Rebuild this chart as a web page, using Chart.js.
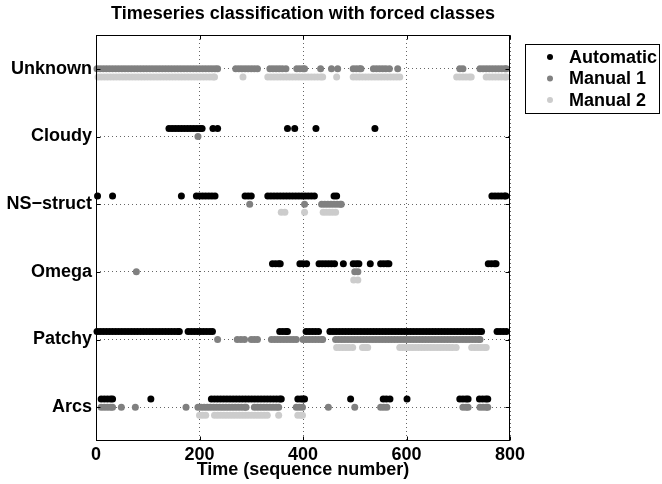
<!DOCTYPE html>
<html>
<head>
<meta charset="utf-8">
<script src="https://cdn.jsdelivr.net/npm/chart.js@4.4.0/dist/chart.umd.min.js"></script>
<style>
  html, body { margin: 0; padding: 0; background: #fff; }
  #wrap { width: 662px; height: 484px; }
</style>
</head>
<body>
<div id="wrap"><canvas id="chart" width="662" height="484"></canvas></div>
<script>
// classes, bottom to top
const categories = ['Arcs', 'Patchy', 'Omega', 'NS\u2212struct', 'Cloudy', 'Unknown'];
const seriesNames = ['Automatic', 'Manual 1', 'Manual 2'];
const seriesColors = ['#000000', '#808080', '#cccccc'];
const xTicks = [0, 200, 400, 600, 800];

// sequence numbers per class, Automatic
const autoArcs = [10, 16, 22, 28, 32, 106, 223, 229, 235, 241, 247, 253, 259, 265, 271, 277, 283, 289, 295, 301, 307, 313, 319, 325, 331, 337, 343, 349, 355, 358, 390, 396, 400, 403, 492, 555, 561, 568, 601, 703, 709, 715, 719, 741, 747, 753, 757];
const autoPatchy = [2, 8, 14, 20, 26, 32, 38, 44, 50, 56, 62, 68, 74, 80, 86, 92, 98, 104, 110, 116, 122, 128, 134, 140, 146, 152, 158, 161, 178, 184, 190, 196, 202, 208, 214, 220, 225, 355, 361, 367, 370, 406, 412, 418, 424, 430, 452, 458, 464, 470, 476, 482, 488, 494, 500, 506, 512, 518, 524, 530, 536, 542, 548, 554, 560, 566, 572, 578, 584, 590, 596, 602, 608, 614, 620, 626, 632, 638, 644, 650, 656, 662, 668, 674, 680, 686, 692, 698, 704, 710, 716, 722, 728, 734, 740, 745, 775, 781, 787, 793];
const autoOmega = [341, 347, 353, 356, 394, 400, 407, 431, 437, 443, 449, 455, 461, 478, 497, 503, 508, 530, 550, 556, 562, 566, 758, 764, 770, 773];
const autoNS = [3, 32, 165, 194, 200, 206, 212, 218, 224, 230, 288, 294, 300, 332, 338, 344, 350, 356, 362, 368, 374, 380, 386, 392, 398, 404, 410, 416, 422, 460, 465, 765, 771, 777, 783, 789, 792];
const autoCloudy = [141, 147, 153, 159, 165, 171, 177, 183, 189, 195, 201, 205, 226, 235, 370, 384, 425, 539];
const autoUnknown = [];

// Manual 1
const man1Arcs = [10, 16, 22, 28, 32, 49, 76, 174, 197, 203, 209, 215, 221, 227, 233, 239, 245, 251, 257, 263, 269, 275, 281, 287, 290, 306, 312, 318, 324, 330, 336, 342, 348, 353, 387, 393, 399, 449, 500, 550, 556, 562, 709, 715, 719, 742, 748, 754, 757];
const man1Patchy = [235, 273, 280, 287, 300, 306, 312, 339, 345, 351, 357, 363, 369, 375, 381, 387, 400, 406, 412, 418, 424, 430, 436, 438, 463, 469, 475, 481, 487, 493, 499, 505, 511, 517, 523, 529, 535, 541, 547, 553, 559, 565, 571, 577, 583, 589, 595, 601, 607, 613, 619, 625, 631, 637, 643, 649, 655, 661, 667, 673, 679, 685, 691, 697, 703, 709, 715, 721, 727, 733, 739, 742];
const man1Omega = [78, 500, 506];
const man1NS = [297, 403, 436, 442, 448, 454, 460, 466, 472, 474];
const man1Cloudy = [197];
const man1Unknown = [2, 8, 14, 20, 26, 32, 38, 44, 50, 56, 62, 68, 74, 80, 86, 92, 98, 104, 110, 116, 122, 128, 134, 140, 146, 152, 158, 164, 170, 176, 182, 188, 194, 200, 206, 212, 218, 224, 230, 235, 270, 276, 282, 288, 294, 300, 306, 312, 336, 342, 348, 354, 360, 367, 388, 394, 400, 403, 434, 455, 467, 497, 503, 509, 512, 536, 542, 548, 554, 560, 567, 583, 703, 709, 742, 748, 754, 760, 766, 772, 778, 784, 790, 793];

// Manual 2
const man2Arcs = [200, 206, 212, 229, 235, 241, 247, 253, 259, 265, 271, 277, 283, 289, 295, 301, 307, 313, 319, 325, 331, 353, 390, 396, 399];
const man2Patchy = [465, 471, 477, 483, 489, 496, 515, 520, 525, 587, 593, 599, 605, 611, 617, 623, 629, 635, 641, 647, 653, 659, 665, 671, 677, 683, 689, 696, 726, 732, 738, 744, 750, 754];
const man2Omega = [498, 506];
const man2NS = [358, 365, 403, 439, 445, 451, 457, 463];
const man2Cloudy = [];
const man2Unknown = [4, 10, 16, 22, 28, 34, 40, 46, 52, 58, 64, 70, 76, 82, 88, 94, 100, 106, 112, 118, 124, 130, 136, 142, 148, 154, 160, 166, 172, 178, 184, 190, 196, 202, 208, 214, 220, 226, 229, 284, 332, 338, 344, 350, 356, 362, 368, 374, 380, 386, 392, 398, 404, 410, 416, 422, 428, 434, 438, 465, 497, 503, 509, 515, 521, 527, 533, 539, 545, 551, 557, 563, 569, 575, 581, 587, 697, 703, 709, 715, 721, 725, 754, 760, 766, 772, 778, 784, 790, 793];

const autoRows = [autoArcs, autoPatchy, autoOmega, autoNS, autoCloudy, autoUnknown];
const man1Rows = [man1Arcs, man1Patchy, man1Omega, man1NS, man1Cloudy, man1Unknown];
const man2Rows = [man2Arcs, man2Patchy, man2Omega, man2NS, man2Cloudy, man2Unknown];

const FONT = '"Liberation Sans", Arial, Helvetica, sans-serif';
Chart.defaults.font.family = FONT;
Chart.defaults.color = '#000';

// each series sits a little above/below the class line
const offsets = [0.12, 0, -0.12];

function buildPoints(rows, offset) {
  const pts = [];
  rows.forEach((xs, i) => {
    xs.forEach((x) => pts.push({ x: x, y: i + 1 + offset }));
  });
  return pts;
}

const frame = {
  id: 'frame',
  afterDraw(chart) {
    const { ctx, chartArea: a, scales } = chart;
    ctx.save();
    ctx.strokeStyle = '#000';
    ctx.lineWidth = 1;
    const L = a.left + 0.5, R = a.right - 0.5, T = a.top + 0.5, B = a.bottom - 0.5;
    ctx.strokeRect(L, T, R - L, B - T);

    // inward tick marks, matlab style
    ctx.beginPath();
    xTicks.forEach((v) => {
      const px = Math.round(scales.x.getPixelForValue(v)) + 0.5;
      ctx.moveTo(px, B); ctx.lineTo(px, B - 4);
      ctx.moveTo(px, T); ctx.lineTo(px, T + 4);
    });
    categories.forEach((c, i) => {
      const py = Math.round(scales.y.getPixelForValue(i + 1)) + 0.5;
      ctx.moveTo(L, py); ctx.lineTo(L + 4, py);
      ctx.moveTo(R, py); ctx.lineTo(R - 4, py);
    });
    ctx.stroke();

    // legend box
    const bx = 525.5, by = 44.5, bw = 134, bh = 69;
    ctx.fillStyle = '#fff';
    ctx.fillRect(bx, by, bw, bh);
    ctx.strokeRect(bx, by, bw, bh);
    ctx.font = 'bold 18px ' + FONT;
    ctx.textBaseline = 'middle';
    ctx.textAlign = 'left';
    chart.data.datasets.forEach((ds, i) => {
      const y = 57 + i * 21.5;
      ctx.fillStyle = ds.backgroundColor;
      ctx.beginPath();
      ctx.arc(550, y, 3, 0, Math.PI * 2);
      ctx.fill();
      ctx.fillStyle = '#000';
      ctx.fillText(ds.label, 569, y + 1);
    });
    ctx.restore();
  }
};

const ctx = document.getElementById('chart').getContext('2d');
new Chart(ctx, {
  type: 'scatter',
  data: {
    datasets: [autoRows, man1Rows, man2Rows].map((rows, k) => ({
      label: seriesNames[k],
      data: buildPoints(rows, offsets[k]),
      backgroundColor: seriesColors[k],
      borderWidth: 0,
      pointRadius: 3.5,
      pointHoverRadius: 3.5,
      clip: false,
    })),
  },
  options: {
    responsive: false,
    animation: false,
    layout: { padding: { left: 0, right: 152, top: 0, bottom: 0 } },
    plugins: {
      legend: { display: false },
      tooltip: { enabled: false },
      title: {
        display: true,
        text: 'Timeseries classification with forced classes',
        fullSize: false,
        color: '#000',
        font: { size: 18, weight: 'bold' },
        padding: { top: 3, bottom: 10.4 },
      },
    },
    scales: {
      x: {
        type: 'linear',
        min: 0,
        max: 800,
        afterBuildTicks: (s) => { s.ticks = xTicks.map((v) => ({ value: v })); },
        afterFit: (s) => { s.height = 43; },
        ticks: { font: { size: 18, weight: 'bold' }, padding: 3, maxRotation: 0 },
        grid: { color: '#666', drawTicks: false, lineWidth: 1 },
        border: { display: false, dash: [1, 3] },
        title: {
          display: true,
          text: 'Time (sequence number)',
          font: { size: 18, weight: 'bold' },
          padding: { top: 0, bottom: 3 },
        },
      },
      y: {
        type: 'linear',
        min: 0.5,
        max: 6.5,
        afterBuildTicks: (s) => { s.ticks = categories.map((c, i) => ({ value: i + 1 })); },
        afterFit: (s) => { s.width = 96; },
        ticks: {
          font: { size: 18, weight: 'bold' },
          padding: 4,
          callback: (v) => categories[Math.round(v) - 1],
        },
        grid: { color: '#666', drawTicks: false, lineWidth: 1 },
        border: { display: false, dash: [1, 3] },
      },
    },
  },
  plugins: [frame],
});
</script>
</body>
</html>
